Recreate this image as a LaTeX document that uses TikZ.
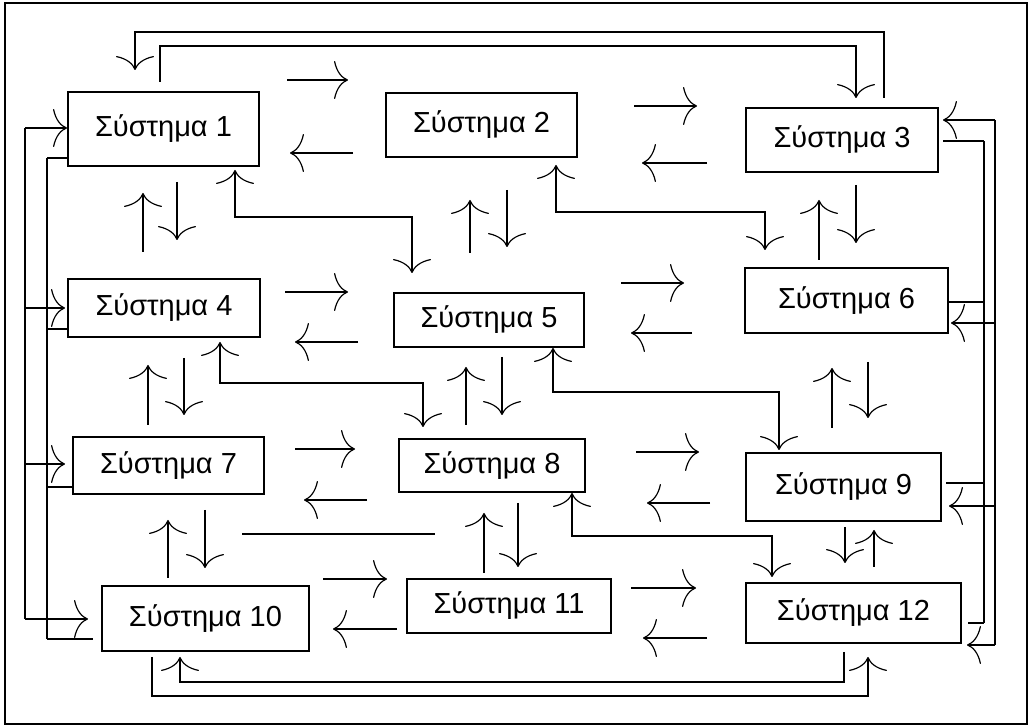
\documentclass[tikz,border=0pt]{standalone}
\usepackage{fontspec}
\setmainfont{Liberation Sans}
\usetikzlibrary{arrows.meta}
\begin{document}
\begin{tikzpicture}[x=0.5pt,y=-0.5pt,
  box/.style={draw,line width=1pt,inner sep=0pt,font=\fontsize{14.5}{16}\selectfont},
  thin/.style={line width=0.7pt},
  thick/.style={line width=1.4pt},
  arr/.style={-{To[length=7pt,width=19pt,line width=0.6pt]}},
  barr/.style={{To[length=7pt,width=19pt,line width=0.6pt]}-{To[length=7pt,width=19pt,line width=0.6pt]}}]
\useasboundingbox (0,0) rectangle (1034,726);
\draw[line width=0.6pt] (5,3) rectangle (1027,724);
% boxes
\node[box,minimum width=95.5pt,minimum height=37pt] (s1) at (163.5,129) {Σύστημα 1};
\node[box,minimum width=95.5pt,minimum height=32pt] (s2) at (481.5,125) {Σύστημα 2};
\node[box,minimum width=96pt,minimum height=32pt] (s3) at (842,140) {Σύστημα 3};
\node[box,minimum width=96pt,minimum height=29pt] (s4) at (164,308) {Σύστημα 4};
\node[box,minimum width=95pt,minimum height=27pt] (s5) at (489,320) {Σύστημα 5};
\node[box,minimum width=101.5pt,minimum height=32.5pt] (s6) at (846.5,300.5) {Σύστημα 6};
\node[box,minimum width=95.5pt,minimum height=28.5pt] (s7) at (168.5,465.5) {Σύστημα 7};
\node[box,minimum width=93pt,minimum height=26.5pt] (s8) at (492,465.5) {Σύστημα 8};
\node[box,minimum width=97.5pt,minimum height=34pt] (s9) at (843.5,487) {Σύστημα 9};
\node[box,minimum width=103.5pt,minimum height=32.5pt] (s10) at (205.5,618.5) {Σύστημα 10};
\node[box,minimum width=102pt,minimum height=27pt] (s11) at (509,606) {Σύστημα 11};
\node[box,minimum width=107.5pt,minimum height=30pt] (s12) at (853.5,613) {Σύστημα 12};
% top loops
\draw[thin,arr] (160,82) |- (856,46) -- (856,98);
\draw[thin,arr] (884,98) |- (135,32) -- (135,70);
% left buses
\draw[thin] (25,128) -- (25,619);
\draw[thick] (47,158) -- (47,639);
\draw[thin,arr] (25,128) -- (s1.west |- 0,128);
\draw[thin] (47,158) -- (s1.west |- 0,158);
\draw[thick,arr] (25,308) -- (65,308);
\draw[thick] (47,329) -- (s4.west |- 0,329);
\draw[thin,arr] (25,464) -- (65,464);
\draw[thin] (47,487) -- (s7.west |- 0,487);
\draw[thick,arr] (25,619) -- (88,619);
\draw[thin] (47,639) -- (93,639);
% right buses
\draw[thin] (984,141) -- (984,623);
\draw[thin] (995,120) -- (995,645);
\draw[thin,arr] (995,120) -- (943,120);
\draw[thin] (943,141) -- (984,141);
\draw[thick] (s6.east |- 0,302) -- (984,302);
\draw[thick,arr] (995,323) -- (951,323);
\draw[thick] (946,483) -- (984,483);
\draw[thick,arr] (995,506) -- (949,506);
\draw[thick] (968,623) -- (984,623);
\draw[thick,arr] (995,645) -- (967,645);
% cross connectors
\draw[thin,barr] (235,170) |- (412,217) -- (412,273);
\draw[thick,barr] (556,165) |- (765,212) -- (765,250);
\draw[thin,barr] (220,342) |- (423,383) -- (423,427);
\draw[thick,barr] (553,348) |- (779,392) -- (779,450);
\draw[thin,barr] (572,493) |- (772,536) -- (772,577);
% bottom loops
\draw[thin,arr] (152,657) |- (868,696) -- (868,657);
\draw[thick,arr] (844,652) |- (180,682) -- (180,657);
% horizontal pairs
\draw[thin,arr] (287,80) -- (348,80);
\draw[thick,arr] (353,153) -- (290,153);
\draw[thick,arr] (634,106) -- (697,106);
\draw[thin,arr] (707,163) -- (642,163);
\draw[thin,arr] (285,292) -- (348,292);
\draw[thin,arr] (358,342) -- (295,342);
\draw[thin,arr] (621,283) -- (684,283);
\draw[thick,arr] (692,333) -- (631,333);
\draw[thick,arr] (295,449) -- (355,449);
\draw[thick,arr] (367,500) -- (304,500);
\draw[thin,arr] (636,452) -- (699,452);
\draw[thin,arr] (710,503) -- (647,503);
\draw[thick,arr] (323,579) -- (387,579);
\draw[thick,arr] (397,629) -- (333,629);
\draw[thin,arr] (631,588) -- (696,588);
\draw[thin,arr] (707,638) -- (643,638);
% vertical pairs
\draw[thin,arr] (143,252) -- (143,193);
\draw[thin,arr] (177,182) -- (177,240);
\draw[thin,arr] (470,253) -- (470,200);
\draw[thin,arr] (507,190) -- (507,247);
\draw[thin,arr] (819,260) -- (819,200);
\draw[thin,arr] (856,185) -- (856,243);
\draw[thin,arr] (148,425) -- (148,365);
\draw[thin,arr] (184,358) -- (184,415);
\draw[thick,arr] (466,425) -- (466,367);
\draw[thick,arr] (502,357) -- (502,415);
\draw[thin,arr] (832,428) -- (832,368);
\draw[thin,arr] (868,362) -- (868,418);
\draw[thin,arr] (168,578) -- (168,520);
\draw[thick,arr] (205,510) -- (205,568);
\draw[thin,arr] (484,573) -- (484,513);
\draw[thick,arr] (518,503) -- (518,567);
\draw[thick,arr] (845,527) -- (845,563);
\draw[thin,arr] (874,567) -- (874,530);
% stray line
\draw[thin] (242,534) -- (435,534);
\end{tikzpicture}
\end{document}
